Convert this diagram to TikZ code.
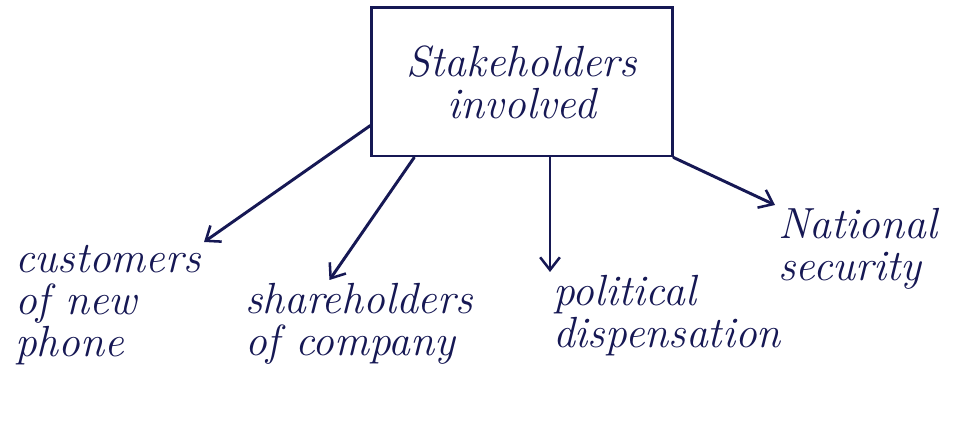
\documentclass[tikz,border=0pt]{standalone}
\usetikzlibrary{arrows.meta}
\definecolor{ink}{RGB}{22,24,84}

\begin{document}
\begin{tikzpicture}[x=0.025cm,y=-0.025cm,
	    hand/.style={font=\fontsize{31}{30}\selectfont\itshape, text=ink, align=left, inner sep=2pt},
	    link/.style={draw=ink, line width=2.1pt, line cap=round, -{Straight Barb[length=9pt,width=14pt,line width=1.8pt]}}]
	    \useasboundingbox (0,0) rectangle (977,438);
	    \node[hand, align=center, draw=ink, line width=2.1pt, minimum width=7.5cm, minimum height=3.7cm] (top) at (522,82) {Stakeholders\\involved};
	    \node[hand, anchor=north west] (cust) at (12,242) {customers\\of new\\phone};
	    \node[hand, anchor=north west] (share) at (242,280) {shareholders\\of company};
	    \node[hand, anchor=north west] (polit) at (550,272) {political\\dispensation};
	    \node[hand, anchor=north west] (nat) at (775,205) {National\\security};
	    \draw[link] (top.196) -- (cust.north east);
	    \draw[link] (top.215) -- (share.124);
	    \draw[link] (polit.north west |- top.south) -- (polit.north west);
	    \draw[link] (top.south east) -- (nat.north west);
	\end{tikzpicture}
\end{document}
